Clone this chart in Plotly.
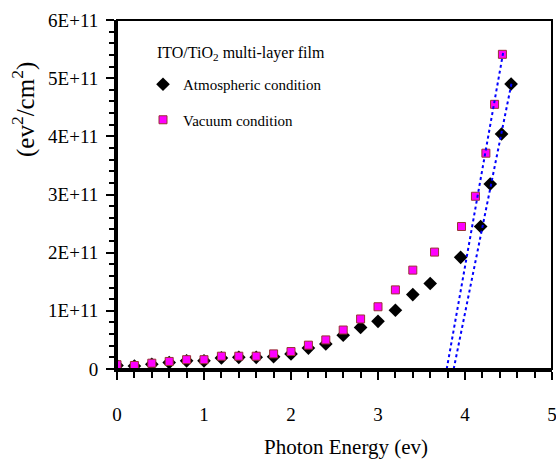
import plotly.graph_objects as go

# Photon energy (ev) and (alpha*h*nu)^2 values (ev^2/cm^2) for the two film conditions
energy_atm = [0.0, 0.2, 0.4, 0.6, 0.8, 1.0, 1.2, 1.4, 1.6, 1.8,
              2.0, 2.2, 2.4, 2.6, 2.8, 3.0, 3.2, 3.4, 3.6,
              3.95, 4.18, 4.29, 4.42, 4.53]
atm_vals = [0.06e11, 0.05e11, 0.08e11, 0.11e11, 0.14e11, 0.14e11, 0.19e11, 0.20e11, 0.20e11, 0.21e11,
            0.26e11, 0.36e11, 0.43e11, 0.58e11, 0.715e11, 0.82e11, 1.01e11, 1.28e11, 1.47e11,
            1.92e11, 2.45e11, 3.18e11, 4.04e11, 4.90e11]

energy_vac = [0.0, 0.2, 0.4, 0.6, 0.8, 1.0, 1.2, 1.4, 1.6, 1.8,
              2.0, 2.2, 2.4, 2.6, 2.8, 3.0, 3.2, 3.4,
              3.65, 3.96, 4.12, 4.24, 4.34, 4.43]
vac_vals = [0.074e11, 0.06e11, 0.10e11, 0.13e11, 0.16e11, 0.16e11, 0.22e11, 0.22e11, 0.22e11, 0.26e11,
            0.30e11, 0.41e11, 0.50e11, 0.67e11, 0.86e11, 1.07e11, 1.36e11, 1.70e11,
            2.01e11, 2.45e11, 2.97e11, 3.71e11, 4.55e11, 5.41e11]

# Linear extrapolations of the absorption edge down to the energy axis
atm_fit_x = [3.87, 4.54]
atm_fit_y = [0.0, 4.95e11]
vac_fit_x = [3.79, 4.44]
vac_fit_y = [0.0, 5.45e11]

y_tickvals = [0, 1e11, 2e11, 3e11, 4e11, 5e11, 6e11]
y_ticktext = ["0", "1E+11", "2E+11", "3E+11", "4E+11", "5E+11", "6E+11"]
x_tickvals = [0, 1, 2, 3, 4, 5]

FONT = "Liberation Serif"

fig = go.Figure()

fig.add_trace(go.Scatter(
    x=energy_atm, y=atm_vals, mode="markers", name="Atmospheric condition",
    legendgroup="atm",
    marker=dict(symbol="diamond", size=10.5, color="black", line=dict(width=0)),
))
fig.add_trace(go.Scatter(
    x=energy_vac, y=vac_vals, mode="markers", name="Vacuum condition",
    legendgroup="vac",
    marker=dict(symbol="square", size=8, color="#FF00FF", line=dict(width=1, color="#993333")),
))
fig.add_trace(go.Scatter(
    x=atm_fit_x, y=atm_fit_y, mode="lines", showlegend=False,
    line=dict(color="#0000FF", width=2, dash="dot"),
))
fig.add_trace(go.Scatter(
    x=vac_fit_x, y=vac_fit_y, mode="lines", showlegend=False,
    line=dict(color="#0000FF", width=2, dash="dot"),
))

plot_w = 556 - 117 - 4
plot_h = 459 - 20 - 90

fig.update_layout(
    width=556, height=459,
    margin=dict(l=117, r=4, t=20, b=90, autoexpand=False),
    paper_bgcolor="white", plot_bgcolor="white",
    font=dict(family=FONT, color="black"),
    showlegend=True,
    legend=dict(
        x=(143 - 117) / plot_w, y=(459 - 90 - 68) / plot_h,
        xanchor="left", yanchor="top",
        font=dict(family=FONT, size=15, color="black"),
        bgcolor="rgba(0,0,0,0)", borderwidth=0,
        tracegroupgap=13, traceorder="grouped",
    ),
    xaxis=dict(
        range=[0, 5], tickvals=x_tickvals, automargin=False,
        showline=True, linecolor="black", linewidth=3,
        ticks="outside", ticklen=8, tickwidth=2, tickcolor="black",
        tickfont=dict(family=FONT, size=19, color="black"),
        ticklabelstandoff=18, ticklabeloverflow="allow",
        minor=dict(dtick=0.2, ticks="outside", ticklen=6, tickwidth=1.5, tickcolor="black"),
        showgrid=False, zeroline=False,
    ),
    yaxis=dict(
        range=[0, 6e11], tickvals=y_tickvals, ticktext=y_ticktext, automargin=False,
        showline=True, linecolor="black", linewidth=3,
        ticks="outside", ticklen=8, tickwidth=2, tickcolor="black",
        tickfont=dict(family=FONT, size=19, color="black"),
        ticklabelstandoff=4, ticklabeloverflow="allow",
        minor=dict(dtick=0.2e11, ticks="outside", ticklen=5, tickwidth=1.5, tickcolor="black"),
        showgrid=False, zeroline=False,
    ),
    shapes=[dict(type="rect", xref="paper", yref="paper", x0=0, x1=1, y0=0, y1=1,
                 line=dict(color="black", width=2), layer="above")],
)

fig.add_annotation(
    text="ITO/TiO<sub>2</sub> multi-layer film",
    xref="paper", yref="paper", x=(155 - 117) / plot_w, y=(459 - 90 - 53) / plot_h,
    xanchor="left", yanchor="middle", showarrow=False,
    font=dict(family=FONT, size=16, color="black"),
)
fig.add_annotation(
    text="(ev<sup>2</sup>/cm<sup>2</sup>)",
    xref="paper", yref="paper", x=(23 - 117) / plot_w, y=(459 - 90 - 110) / plot_h,
    xanchor="center", yanchor="middle", textangle=-90, showarrow=False,
    font=dict(family=FONT, size=25, color="black"),
)
fig.add_annotation(
    text="Photon Energy (ev)",
    xref="paper", yref="paper", x=(346 - 117) / plot_w, y=(459 - 90 - 447) / plot_h,
    xanchor="center", yanchor="middle", showarrow=False,
    font=dict(family=FONT, size=21, color="black"),
)

fig.write_html("out.html")
